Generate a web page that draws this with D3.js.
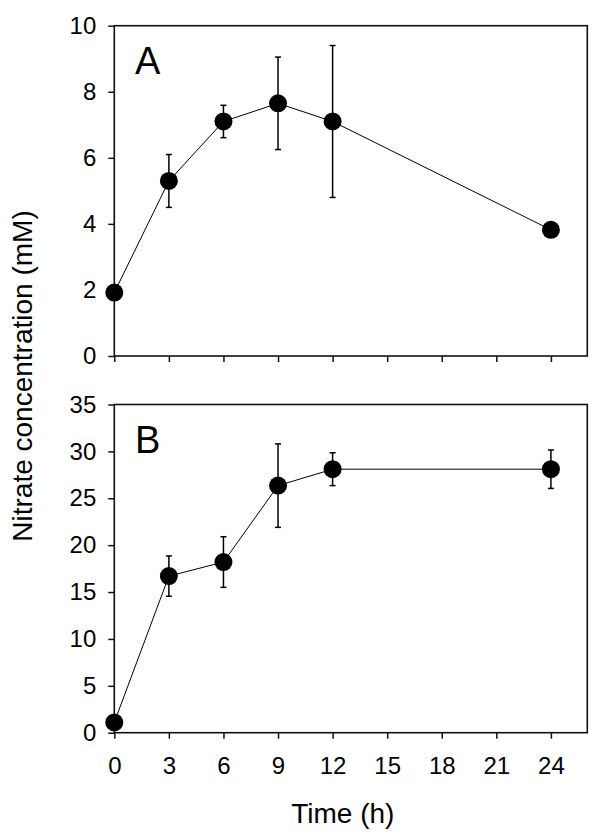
<!DOCTYPE html>
<html>
<head>
<meta charset="utf-8">
<script src="https://cdn.jsdelivr.net/npm/d3@7"></script>
<style>
  html, body { margin: 0; padding: 0; background: #fff; }
  svg { display: block; }
  text { font-family: "Liberation Sans", Arial, sans-serif; fill: #000; }
</style>
</head>
<body>
<svg id="chart" width="600" height="840"></svg>
<script>
// ---- data ----
const times = [0, 3, 6, 9, 12, 24];
const nitrateA = [1.92, 5.3, 7.1, 7.65, 7.1, 3.82];
const errorA = [0.1, 0.8, 0.49, 1.4, 2.3, 0.1];
const nitrateB = [1.1, 16.7, 18.2, 26.35, 28.1, 28.1];
const errorB = [0.3, 2.15, 2.7, 4.45, 1.75, 2.05];
const xTicks = [0, 3, 6, 9, 12, 15, 18, 21, 24];
const yTicksA = [0, 2, 4, 6, 8, 10];
const yTicksB = [0, 5, 10, 15, 20, 25, 30, 35];
const panelLabels = ["A", "B"];
const xTitle = "Time (h)";
const yTitle = "Nitrate concentration (mM)";

const svg = d3.select("#chart");
const left = 114.3, right = 587.3;
const x = d3.scaleLinear().domain([0, 26]).range([left, right]);

const panels = [
  { label: panelLabels[0], vals: nitrateA, errs: errorA, ticks: yTicksA, domain: [0, 10], top: 25.7, bottom: 356, labels: false },
  { label: panelLabels[1], vals: nitrateB, errs: errorB, ticks: yTicksB, domain: [0, 35], top: 404.5, bottom: 732.7, labels: true }
];

panels.forEach(p => {
  const y = d3.scaleLinear().domain(p.domain).range([p.bottom, p.top]);
  const g = svg.append("g");

  // y axis
  const ya = g.append("g").attr("transform", `translate(${left},0)`)
    .call(d3.axisLeft(y).tickValues(p.ticks).tickSize(6).tickSizeOuter(0).tickPadding(12));
  ya.select(".domain").remove();
  ya.selectAll("line").attr("stroke", "#111").attr("stroke-width", 1.5);
  ya.selectAll("text").style("font-size", "24px").style("font-family", '"Liberation Sans", Arial, sans-serif');

  // x axis
  const xa = g.append("g").attr("transform", `translate(0,${p.bottom})`)
    .call(d3.axisBottom(x).tickValues(xTicks).tickSize(6).tickSizeOuter(0).tickPadding(18));
  xa.select(".domain").remove();
  xa.selectAll("line").attr("stroke", "#111").attr("stroke-width", 1.5);
  if (p.labels) {
    xa.selectAll("text").style("font-size", "24px").style("font-family", '"Liberation Sans", Arial, sans-serif');
  } else {
    xa.selectAll("text").remove();
  }

  // frame
  g.append("rect")
    .attr("x", left).attr("y", p.top)
    .attr("width", right - left).attr("height", p.bottom - p.top)
    .attr("fill", "none").attr("stroke", "#111").attr("stroke-width", 1.6);

  const pts = times.map((t, i) => ({ t, v: p.vals[i], e: p.errs[i] }));

  // connecting line
  g.append("path").datum(pts)
    .attr("fill", "none").attr("stroke", "#000").attr("stroke-width", 1)
    .attr("d", d3.line().x(d => x(d.t)).y(d => y(d.v)));

  // error bars
  const eb = g.selectAll(".eb").data(pts).enter().append("g");
  eb.append("line")
    .attr("x1", d => x(d.t)).attr("x2", d => x(d.t))
    .attr("y1", d => y(d.v + d.e)).attr("y2", d => y(d.v - d.e))
    .attr("stroke", "#000").attr("stroke-width", 1.5);
  [1, -1].forEach(s => {
    eb.append("line")
      .attr("x1", d => x(d.t) - 3).attr("x2", d => x(d.t) + 3)
      .attr("y1", d => y(d.v + s * d.e)).attr("y2", d => y(d.v + s * d.e))
      .attr("stroke", "#000").attr("stroke-width", 1.5);
  });

  // markers
  g.selectAll(".pt").data(pts).enter().append("circle")
    .attr("cx", d => x(d.t)).attr("cy", d => y(d.v)).attr("r", 9)
    .attr("fill", "#000");

  // panel label
  g.append("text")
    .attr("x", 135).attr("y", p.top + 48)
    .style("font-size", "38px")
    .text(p.label);
});

// axis titles
svg.append("text")
  .attr("x", (left + right) / 2 - 8).attr("y", 823)
  .attr("text-anchor", "middle")
  .style("font-size", "28px")
  .text(xTitle);

svg.append("text")
  .attr("transform", "translate(32,376) rotate(-90)")
  .attr("text-anchor", "middle")
  .style("font-size", "28px")
  .text(yTitle);
</script>
</body>
</html>
